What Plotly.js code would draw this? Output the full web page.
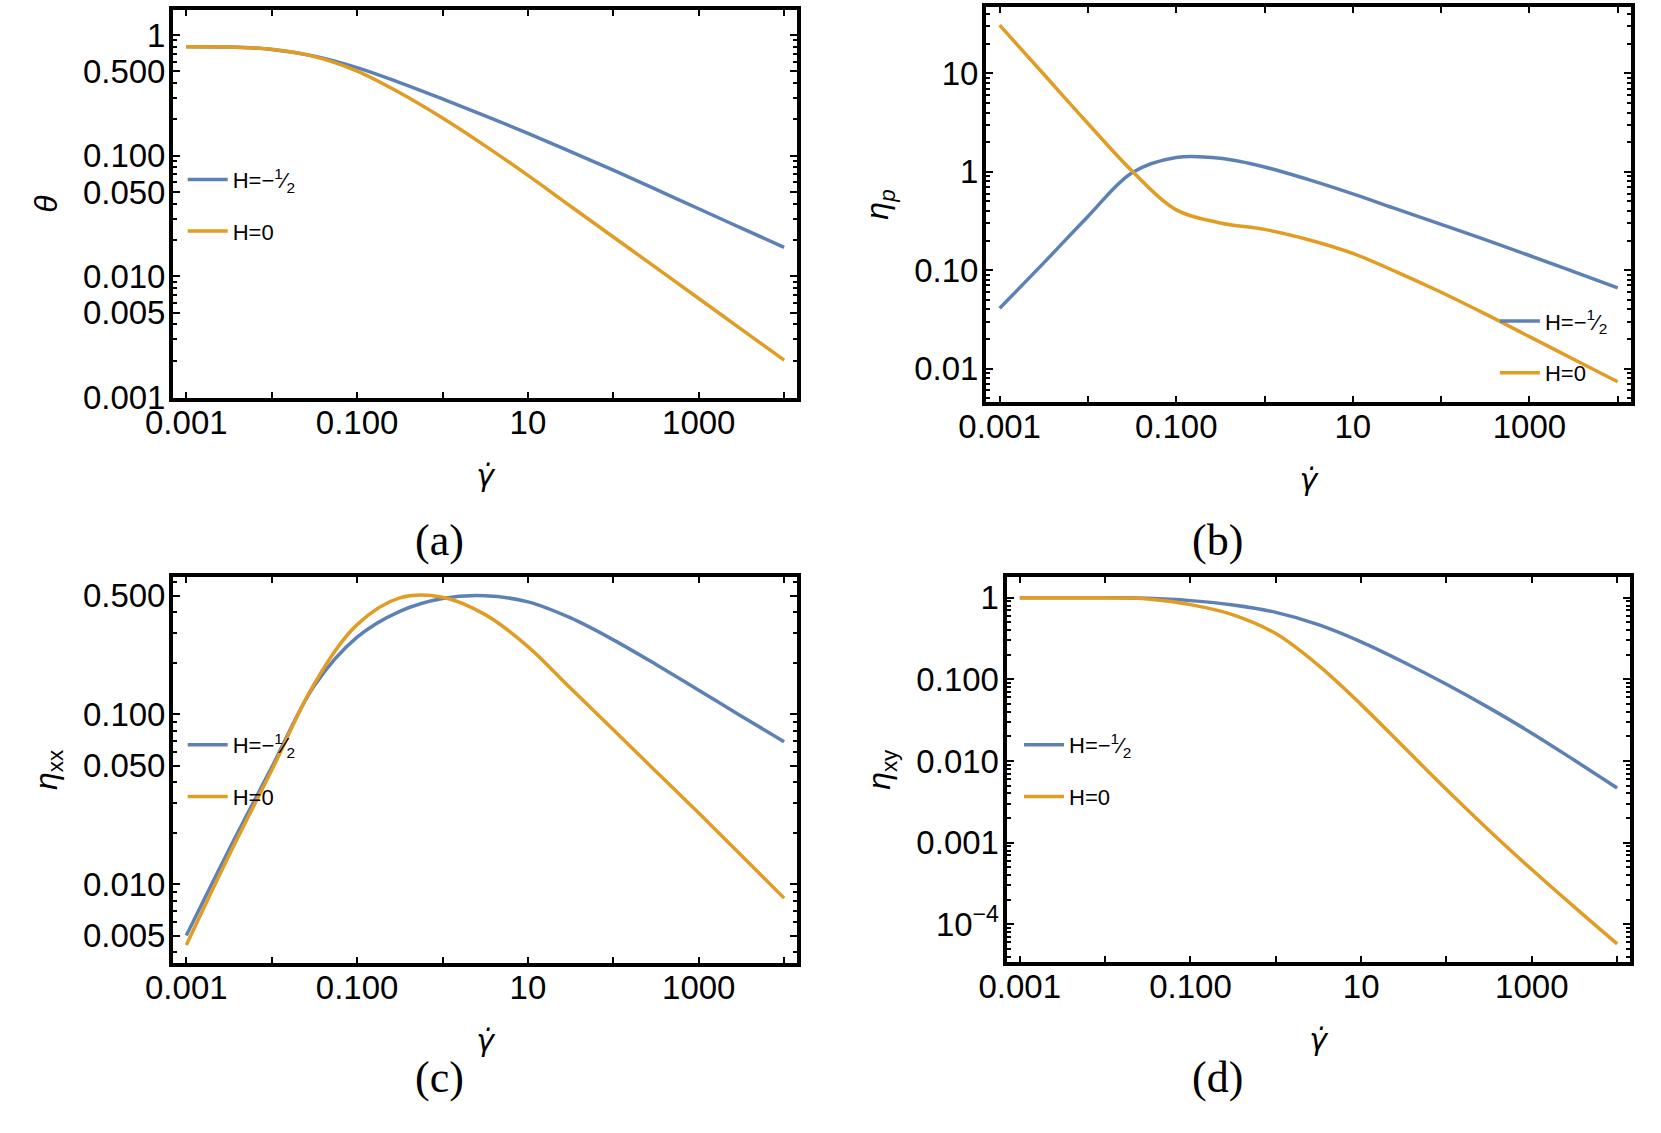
<!DOCTYPE html>
<html>
<head>
<meta charset="utf-8">
<script src="https://cdn.plot.ly/plotly-3.0.1.min.js"></script>
<style>
  html, body { margin: 0; padding: 0; background: white; }
  #chart { width: 1661px; height: 1133px; }
</style>
</head>
<body>
<div id="chart"></div>
<script>
// shear rate, shared by all four panels
var gammaDot = [0.001, 0.00316, 0.01, 0.0316, 0.1, 0.316, 1, 3.16, 10, 31.6, 100, 316, 1000, 3162, 10000];

// (a) theta
var thetaHalf = [0.80, 0.794, 0.759, 0.668, 0.537, 0.403, 0.295, 0.214, 0.153, 0.108, 0.0759, 0.0525, 0.0363, 0.0251, 0.0174];
var thetaZero = [0.80, 0.794, 0.76, 0.662, 0.502, 0.332, 0.205, 0.1205, 0.0686, 0.0381, 0.0212, 0.0118, 0.00655, 0.00364, 0.00202];

// (b) eta_p
var etaPHalf = [0.041, 0.1186, 0.352, 0.98, 1.40, 1.37, 1.12, 0.832, 0.596, 0.417, 0.292, 0.204, 0.141, 0.0966, 0.066];
var etaPZero = [31, 9.8, 3.1, 1.02, 0.41, 0.302, 0.26, 0.204, 0.148, 0.0955, 0.0596, 0.0359, 0.0211, 0.01245, 0.00733];

// (c) eta_xx
var etaXXHalf = [0.005, 0.016, 0.0488, 0.148, 0.285, 0.405, 0.482, 0.50, 0.46, 0.37, 0.275, 0.197, 0.139, 0.0977, 0.0692];
var etaXXZero = [0.0044, 0.0148, 0.047, 0.152, 0.338, 0.486, 0.49, 0.387, 0.251, 0.1426, 0.0813, 0.0462, 0.0263, 0.0148, 0.0083];

// (d) eta_xy
var etaXYHalf = [1, 1, 0.998, 0.982, 0.92, 0.813, 0.661, 0.468, 0.288, 0.162, 0.087, 0.0447, 0.0219, 0.0102, 0.00468];
var etaXYZero = [1, 1, 0.995, 0.966, 0.822, 0.617, 0.363, 0.148, 0.049, 0.0148, 0.00447, 0.00141, 0.000468, 0.000162, 0.0000575];

// tick labels
var xTickVals = [0.001, 0.1, 10, 1000];
var xTickText = ['0.001', '0.100', '10', '1000'];
var xMinorVals = [0.01, 1, 100, 10000];
var yTickValsA = [1, 0.5, 0.1, 0.05, 0.01, 0.005, 0.001];
var yTickTextA = ['1', '0.500', '0.100', '0.050', '0.010', '0.005', '0.001'];
var yTickValsB = [10, 1, 0.1, 0.01];
var yTickTextB = ['10', '1', '0.10', '0.01'];
var yTickValsC = [0.5, 0.1, 0.05, 0.01, 0.005];
var yTickTextC = ['0.500', '0.100', '0.050', '0.010', '0.005'];
var yTickValsD = [1, 0.1, 0.01, 0.001, 0.0001];
var yTickTextD = ['1', '0.100', '0.010', '0.001', '10<sup>\u22124</sup>'];

var legendHalf = 'H=\u2212<sup>1</sup>\u2044<sub>2</sub>';
var legendZero = 'H=0';

var blue = '#5E81B5';
var orange = '#E19C24';
var sans = 'Liberation Sans, Arial, sans-serif';

// minor ticks 2..9 in every decade
function minorTicks(lo, hi) {
  var vals = [];
  for (var k = lo; k < hi; k++) {
    for (var m = 2; m <= 9; m++) {
      vals.push(m * Math.pow(10, k));
    }
  }
  return vals;
}

function makeTrace(y, name, color, xa, ya, legend, group) {
  return {
    x: gammaDot,
    y: y,
    name: name,
    type: 'scatter',
    mode: 'lines',
    line: { color: color, width: 3.5, shape: 'spline', smoothing: 1 },
    xaxis: xa,
    yaxis: ya,
    legend: legend,
    legendgroup: group
  };
}

function xAxis(domain, anchor) {
  return {
    type: 'log',
    domain: domain,
    anchor: anchor,
    range: [-3.155, 4.15],
    tickmode: 'array',
    tickvals: xTickVals,
    ticktext: xTickText,
    ticks: 'inside',
    ticklen: 6,
    tickwidth: 2,
    tickcolor: 'black',
    ticklabelstandoff: -8,
    minor: { tickvals: xMinorVals, ticks: 'inside', ticklen: 6, tickwidth: 2, tickcolor: 'black' },
    showline: true,
    linewidth: 4,
    linecolor: 'black',
    mirror: 'allticks',
    showgrid: false,
    zeroline: false,
    tickfont: { family: sans, size: 33, color: 'black' },
    title: { text: '<i>\u03B3\u0307</i>', font: { family: 'DejaVu Sans, sans-serif', size: 30, color: 'black' }, standoff: 26 }
  };
}

function yAxis(domain, anchor, range, vals, text, title) {
  return {
    type: 'log',
    domain: domain,
    anchor: anchor,
    range: range,
    tickmode: 'array',
    tickvals: vals,
    ticktext: text,
    ticks: 'inside',
    ticklen: 7,
    tickwidth: 2,
    tickcolor: 'black',
    ticklabelstandoff: -3,
    minor: { tickvals: minorTicks(-5, 2), ticks: 'inside', ticklen: 4, tickwidth: 1.5, tickcolor: 'black' },
    showline: true,
    linewidth: 4,
    linecolor: 'black',
    mirror: 'allticks',
    showgrid: false,
    zeroline: false,
    tickfont: { family: sans, size: 33, color: 'black' },
    title: { text: title, font: { family: sans, size: 32, color: 'black' }, standoff: 17 }
  };
}

function legendBox(x, y) {
  return {
    x: x,
    y: y,
    xanchor: 'left',
    yanchor: 'top',
    bgcolor: 'rgba(0,0,0,0)',
    traceorder: 'grouped',
    tracegroupgap: 20,
    itemwidth: 40,
    font: { family: sans, size: 22, color: 'black' }
  };
}

var data = [
  makeTrace(thetaHalf, legendHalf, blue, 'x', 'y', 'legend', 'a1'),
  makeTrace(thetaZero, legendZero, orange, 'x', 'y', 'legend', 'a2'),
  makeTrace(etaPHalf, legendHalf, blue, 'x2', 'y2', 'legend2', 'b1'),
  makeTrace(etaPZero, legendZero, orange, 'x2', 'y2', 'legend2', 'b2'),
  makeTrace(etaXXHalf, legendHalf, blue, 'x3', 'y3', 'legend3', 'c1'),
  makeTrace(etaXXZero, legendZero, orange, 'x3', 'y3', 'legend3', 'c2'),
  makeTrace(etaXYHalf, legendHalf, blue, 'x4', 'y4', 'legend4', 'd1'),
  makeTrace(etaXYZero, legendZero, orange, 'x4', 'y4', 'legend4', 'd2')
];

function caption(text, x, y) {
  return {
    text: text, xref: 'paper', yref: 'paper', x: x, y: y,
    showarrow: false, font: { family: 'Liberation Serif, serif', size: 44, color: 'black' }
  };
}

var layout = {
  width: 1661,
  height: 1133,
  margin: { l: 0, r: 0, t: 0, b: 0 },
  paper_bgcolor: 'white',
  plot_bgcolor: 'white',
  showlegend: true,
  xaxis: xAxis([0.1042, 0.4798], 'y'),
  yaxis: yAxis([0.6487, 0.9912], 'x', [-3.008, 0.207], yTickValsA, yTickTextA, '<i>\u03B8</i>'),
  xaxis2: xAxis([0.5936, 0.9819], 'y2'),
  yaxis2: yAxis([0.6452, 0.9938], 'x2', [-2.34, 1.675], yTickValsB, yTickTextB, '<i>\u03B7<sub>p</sub></i>'),
  xaxis3: xAxis([0.1042, 0.4798], 'y3'),
  yaxis3: yAxis([0.1500, 0.4910], 'x3', [-2.463, -0.189], yTickValsC, yTickTextC, '<i>\u03B7</i><sub>xx</sub>'),
  xaxis4: xAxis([0.6060, 0.9813], 'y4'),
  yaxis4: yAxis([0.1509, 0.4903], 'x4', [-4.462, 0.247], yTickValsD, yTickTextD, '<i>\u03B7</i><sub>xy</sub>'),
  legend: legendBox(0.110, 0.860),
  legend2: legendBox(0.900, 0.735),
  legend3: legendBox(0.110, 0.361),
  legend4: legendBox(0.6135, 0.361),
  annotations: [
    caption('(a)', 0.2486, 0.5226),
    caption('(b)', 0.7496, 0.5226),
    caption('(c)', 0.2486, 0.0257),
    caption('(d)', 0.7496, 0.0257)
  ]
};

Plotly.newPlot('chart', data, layout, { displayModeBar: false });
</script>
</body>
</html>
